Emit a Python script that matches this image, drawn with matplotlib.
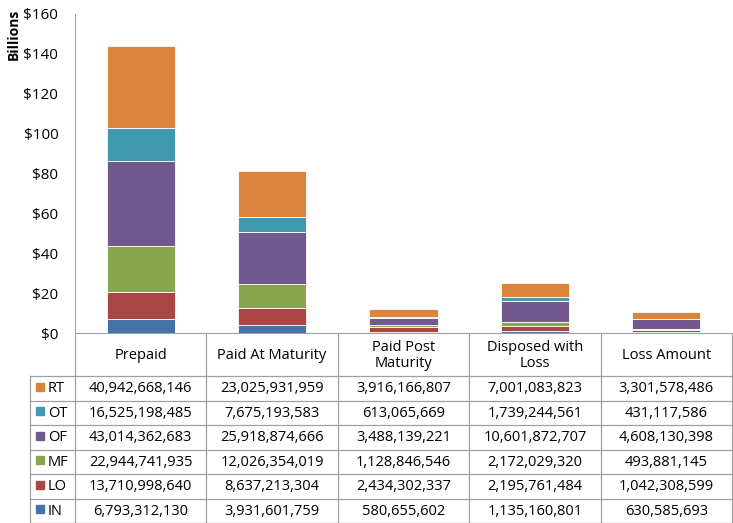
import numpy as np
import matplotlib.pyplot as plt
from matplotlib.patches import Rectangle

plt.rcParams['font.family'] = ['Open Sans', 'DejaVu Sans']

categories = ['Prepaid', 'Paid At Maturity', 'Paid Post\nMaturity', 'Disposed with\nLoss', 'Loss Amount']
series = ['IN', 'LO', 'MF', 'OF', 'OT', 'RT']
IN = [6793312130, 3931601759, 580655602, 1135160801, 630585693]
LO = [13710998640, 8637213304, 2434302337, 2195761484, 1042308599]
MF = [22944741935, 12026354019, 1128846546, 2172029320, 493881145]
OF = [43014362683, 25918874666, 3488139221, 10601872707, 4608130398]
OT = [16525198485, 7675193583, 613065669, 1739244561, 431117586]
RT = [40942668146, 23025931959, 3916166807, 7001083823, 3301578486]
colors = ['#4572A7', '#AA4643', '#89A54E', '#71588F', '#4198AF', '#DB843D']

data = [IN, LO, MF, OF, OT, RT]

W, H = 733, 523
fig = plt.figure(figsize=(W / 100, H / 100), dpi=100)

# pixel layout
x0, x1 = 75, 732
y_axis, y_top = 333, 14
ncol = len(categories)

ax = fig.add_axes([x0 / W, (H - y_axis) / H, (x1 - x0) / W, (y_axis - y_top) / H])
x = np.arange(ncol)
bottom = np.zeros(ncol)
for vals, c in zip(data, colors):
    v = np.array(vals) / 1e9
    ax.bar(x, v, 0.52, bottom=bottom, color=c, edgecolor='white', linewidth=0.6)
    bottom += v
ax.set_xlim(-0.5, ncol - 0.5)
ax.set_ylim(0, 160)
ax.set_yticks(range(0, 161, 20))
ax.set_yticklabels(['$%d' % t for t in range(0, 161, 20)], fontsize=11)
ax.tick_params(axis='y', length=0, pad=12)
ax.set_xticks([])
for s in ['top', 'right']:
    ax.spines[s].set_visible(False)
for s in ['left', 'bottom']:
    ax.spines[s].set_color('#A0A0A0')
ax.set_ylabel('Billions', fontsize=10, fontweight='bold', labelpad=2)
ax.yaxis.set_label_coords(-0.083, 0.935)

# data table drawn in pixel coordinates
tab = fig.add_axes([0, 0, 1, (H - y_axis) / H])
tab.set_xlim(0, W)
tab.set_ylim(H, y_axis)
tab.axis('off')
colw = (x1 - x0) / ncol
hdr_bot = 376
rowh = 24.5
lab_left = 30
lc = '#A0A0A0'

# header verticals
for i in range(ncol + 1):
    xx = x0 + i * colw
    tab.plot([xx, xx], [y_axis, H], color=lc, lw=0.9)
tab.plot([lab_left, lab_left], [hdr_bot, H], color=lc, lw=0.9)
tab.plot([x0, x1], [hdr_bot, hdr_bot], color=lc, lw=0.9)
tab.plot([lab_left, x0], [hdr_bot, hdr_bot], color=lc, lw=0.9)
for i, cat in enumerate(categories):
    tab.text(x0 + (i + 0.5) * colw, (y_axis + hdr_bot) / 2 + 1, cat, ha='center', va='center',
             fontsize=10.5, linespacing=1.05)

rows = list(zip(series, data, colors))[::-1]
for r, (name, vals, c) in enumerate(rows):
    yt = hdr_bot + r * rowh
    yb = yt + rowh
    tab.plot([lab_left, x1], [yb, yb], color=lc, lw=0.9)
    ym = (yt + yb) / 2
    tab.add_patch(Rectangle((36, ym - 5.5), 8, 8, color=c))
    tab.text(48, ym + 0.5, name, ha='left', va='center', fontsize=10.5)
    for i, v in enumerate(vals):
        tab.text(x0 + (i + 0.5) * colw, ym + 0.5, '{:,}'.format(v), ha='center', va='center',
                 fontsize=10.5)

fig.savefig('out.png', dpi=100)
